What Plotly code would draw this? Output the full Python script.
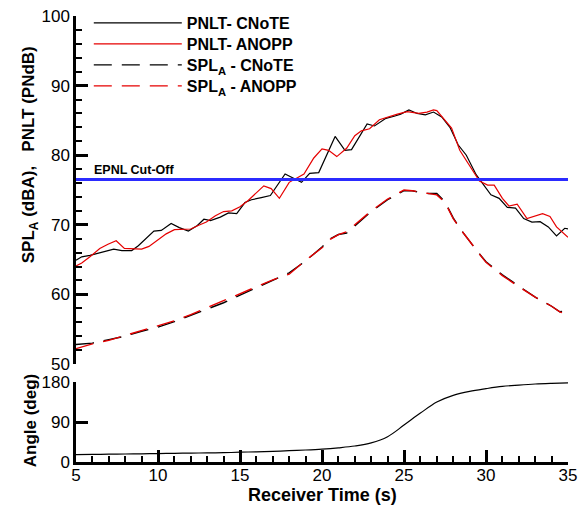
import plotly.graph_objects as go

# ---- data ----
pnlt_cnote_t = [5.0, 5.35, 5.85, 6.5, 7.3, 7.8, 8.4, 8.8, 9.3, 9.75, 10.2, 10.8, 11.3, 11.85, 12.4, 12.8,
                13.2, 13.8, 14.3, 14.8, 15.3, 15.7, 16.3, 16.85, 17.75, 18.75, 19.25, 19.8, 20.8, 21.4,
                21.8, 22.75, 23.2, 23.9, 24.4, 24.8, 25.3, 25.8, 26.3, 26.8, 27.3, 27.8, 28.3, 28.8,
                29.4, 29.9, 30.3, 30.8, 31.3, 31.8, 32.3, 32.8, 33.3, 33.8, 34.3, 34.8, 35.0]
pnlt_cnote = [64.9, 65.4, 65.6, 66.0, 66.5, 66.3, 66.3, 67.0, 68.1, 69.1, 69.2, 70.2, 69.6, 69.1, 69.9, 70.8,
              70.6, 71.1, 71.7, 71.6, 73.2, 73.6, 73.9, 74.2, 77.3, 76.1, 77.4, 77.5, 82.7, 80.7,
              80.8, 84.5, 84.2, 85.3, 85.6, 85.9, 86.5, 86.0, 85.8, 86.2, 85.5, 84.0, 81.5, 80.0,
              77.2, 75.5, 74.3, 73.8, 72.5, 72.4, 70.9, 70.4, 70.45, 69.7, 68.4, 69.5, 69.4]

pnlt_anopp_t = [5.0, 5.35, 5.85, 6.45, 6.95, 7.45, 7.95, 8.5, 9.0, 9.45, 9.95, 10.5, 11.0, 11.5, 12.0,
                12.45, 12.95, 13.5, 14.0, 14.5, 15.0, 15.5, 16.0, 16.45, 16.9, 17.4, 18.0, 18.9, 19.5,
                20.0, 20.4, 20.9, 21.5, 22.0, 22.4, 22.9, 23.5, 24.0, 24.6, 25.2, 25.9, 26.4, 26.8,
                27.0, 27.4, 27.9, 28.4, 29.0, 29.6, 30.1, 30.5, 31.0, 31.4, 31.9, 32.5, 33.45, 33.9,
                34.3, 34.9, 35.0]
pnlt_anopp = [64.1, 64.5, 65.4, 66.6, 67.2, 67.7, 66.6, 66.6, 66.5, 66.9, 67.8, 68.7, 69.3, 69.4, 69.4,
              69.9, 70.4, 71.3, 71.9, 72.0, 72.6, 73.5, 74.6, 75.6, 75.2, 73.8, 76.1, 77.3, 79.6,
              80.9, 80.7, 79.8, 81.0, 82.8, 83.5, 83.8, 85.1, 85.5, 85.9, 86.25, 86.0, 86.2, 86.5,
              86.4, 85.3, 83.9, 80.7, 78.5, 76.3, 75.7, 75.7, 73.8, 72.7, 72.95, 70.9, 71.6, 71.2,
              69.7, 68.3, 68.2]

spl_t = [5, 6, 7, 8, 9, 10, 11, 12, 13, 14, 15, 16, 17, 18, 19, 20, 20.5, 21, 21.5, 22, 23, 24, 25,
         25.5, 26, 26.5, 27, 27.5, 28, 28.5, 29, 29.5, 30, 31, 32, 33, 34, 34.5, 35]
spl_cnote = [52.8, 53.0, 53.5, 54.0, 54.7, 55.3, 56.1, 57.0, 57.8, 58.8, 59.9, 61.0, 62.0, 63.1, 64.8,
             66.8, 68.0, 68.6, 68.8, 69.8, 71.9, 73.6, 74.9, 74.9, 74.6, 74.5, 74.5, 73.3, 71.0, 69.2,
             67.6, 66.1, 64.7, 62.8, 61.2, 59.6, 58.3, 57.5, 57.7]
spl_anopp = [52.2, 52.9, 53.4, 54.1, 54.8, 55.4, 56.2, 57.1, 58.1, 59.1, 60.1, 61.2, 62.1, 62.9, 64.9,
             66.7, 67.9, 68.6, 69.0, 70.0, 72.0, 73.7, 75.0, 74.9, 74.7, 74.6, 74.3, 73.2, 70.9, 69.2,
             67.6, 66.1, 64.6, 62.7, 61.1, 59.6, 58.3, 57.5, 57.0]

angle_t = [5, 6, 7, 8, 9, 10, 11, 12, 13, 14, 15, 16, 17, 18, 19, 20, 21, 22, 23, 24, 25, 26, 27, 28,
           29, 30, 31, 32, 33, 34, 35]
angle = [16.5, 17, 17.5, 18, 18.5, 19, 19.5, 20, 20.5, 21, 22, 23, 24, 25.5, 27, 29, 32, 36, 43, 57,
         83, 110, 135, 150, 159, 165, 170, 173, 175.5, 177, 178]

epnl_cutoff = 76.5
t_range = [5, 35]

FONT = "Liberation Sans, Arial, Helvetica, sans-serif"
RED = "#e60000"
H = 462.0  # plot-area height in px (margin t=0, b=44)


def py(p):
    """pixel row -> paper fraction"""
    return (H - p) / H


fig = go.Figure()
fig.add_trace(go.Scatter(x=pnlt_cnote_t, y=pnlt_cnote, mode="lines", name="PNLT- CNoTE", legend="legend",
                         line=dict(color="black", width=1.2), xaxis="x", yaxis="y"))
fig.add_trace(go.Scatter(x=pnlt_anopp_t, y=pnlt_anopp, mode="lines", name="PNLT- ANOPP", legend="legend2",
                         line=dict(color=RED, width=1.2), xaxis="x", yaxis="y"))
fig.add_trace(go.Scatter(x=spl_t, y=spl_cnote, mode="lines", name="SPL<sub>A</sub> - CNoTE", legend="legend3",
                         line=dict(color="black", width=1.4, dash="18px,10px"), xaxis="x", yaxis="y"))
fig.add_trace(go.Scatter(x=spl_t, y=spl_anopp, mode="lines", name="SPL<sub>A</sub> - ANOPP", legend="legend4",
                         line=dict(color=RED, width=1.4, dash="18px,10px"), xaxis="x", yaxis="y"))
fig.add_trace(go.Scatter(x=t_range, y=[epnl_cutoff, epnl_cutoff], mode="lines", showlegend=False,
                         line=dict(color="#2b2bff", width=3), xaxis="x", yaxis="y"))
fig.add_trace(go.Scatter(x=angle_t, y=angle, mode="lines", showlegend=False, line_shape="spline",
                         line=dict(color="black", width=1.2), xaxis="x2", yaxis="y2"))

axis_common = dict(showgrid=False, zeroline=False, linecolor="black", linewidth=2.5, automargin=False,
                   ticks="inside", tickcolor="black", tickwidth=2.5, ticklen=12,
                   tickfont=dict(family=FONT, size=17, color="black"))


def leg(row_y):
    return dict(x=0.026, y=py(row_y), xanchor="left", yanchor="middle", bgcolor="rgba(0,0,0,0)",
                itemwidth=88, font=dict(family=FONT, size=16, color="black", weight="bold"))


fig.update_layout(
    width=586, height=506,
    margin=dict(l=76, r=18, t=0, b=44, autoexpand=False),
    paper_bgcolor="white", plot_bgcolor="white",
    font=dict(family=FONT, color="black"),
    xaxis=dict(range=t_range, domain=[0, 1], anchor="y", visible=False, automargin=False),
    yaxis=dict(range=[50, 100], domain=[py(364), py(16)], anchor="x", showline=True, dtick=10,
               minor=dict(ticks="inside", dtick=2, ticklen=6, tickwidth=1.5, tickcolor="black"),
               **axis_common),
    xaxis2=dict(range=t_range, domain=[0, 1], anchor="y2", showline=True, dtick=5,
                ticklabelstandoff=-4,
                minor=dict(ticks="inside", dtick=1, ticklen=6, tickwidth=1.5, tickcolor="black"),
                **axis_common),
    yaxis2=dict(range=[0, 180], domain=[0, py(382)], anchor="x2", showline=True,
                tickvals=[0, 90, 180], **axis_common),
    legend=leg(23), legend2=leg(44), legend3=leg(65), legend4=leg(86),
    showlegend=True,
    annotations=[
        dict(text="<b>EPNL Cut-Off</b>", x=5.95, y=epnl_cutoff, xref="x", yref="y", yshift=10,
             xanchor="left", yanchor="middle", showarrow=False, font=dict(family=FONT, size=12.5)),
        dict(text="<b>SPL<sub>A</sub> (dBA),   PNLT (PNdB)</b>", textangle=-90, x=-0.093,
             y=py(155), xref="paper", yref="paper", showarrow=False,
             xanchor="center", yanchor="middle", font=dict(family=FONT, size=17)),
        dict(text="<b>Angle (deg)</b>", textangle=-90, x=-0.093, y=py(420),
             xref="paper", yref="paper", showarrow=False, xanchor="center", yanchor="middle",
             font=dict(family=FONT, size=17)),
        dict(text="<b>Receiver Time (s)</b>", x=0.5, y=py(495), xref="paper", yref="paper",
             showarrow=False, xanchor="center", yanchor="middle", font=dict(family=FONT, size=18)),
    ],
)

fig.write_html("out.html")
